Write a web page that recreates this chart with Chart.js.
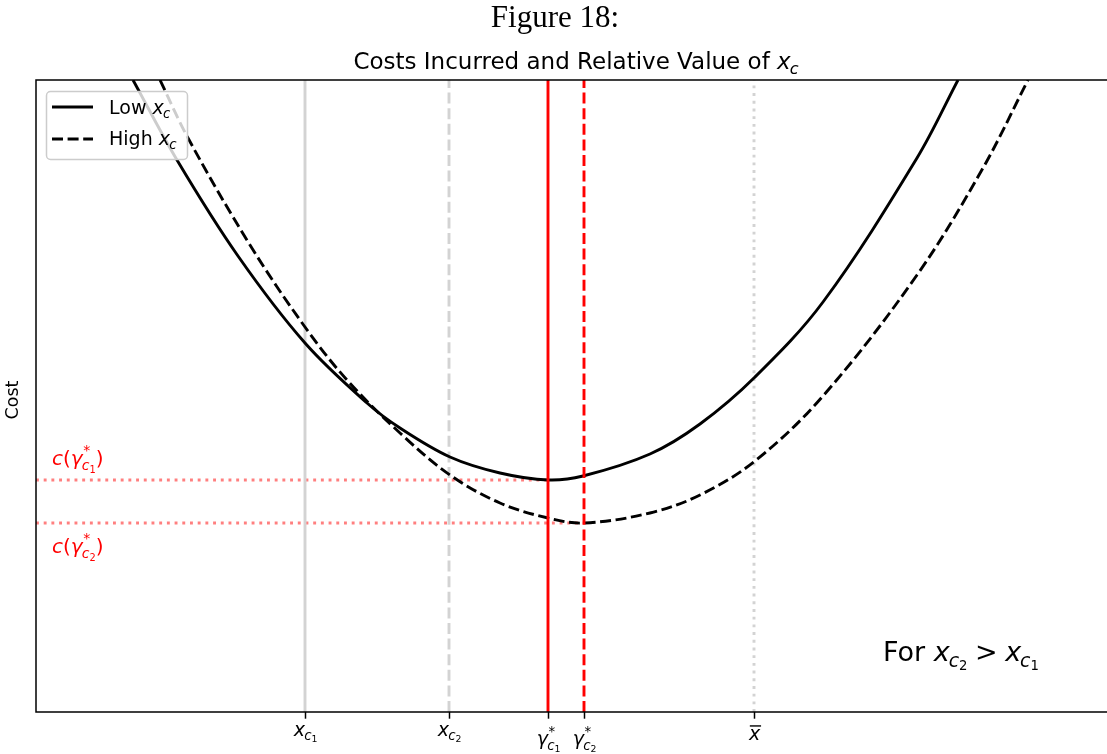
<!DOCTYPE html>
<html>
<head>
<meta charset="utf-8">
<script src="https://cdn.jsdelivr.net/npm/chart.js@4.4.1/dist/chart.umd.min.js"></script>
<style>
  html, body { margin: 0; padding: 0; background: #fff; }
  canvas { display: block; }
</style>
</head>
<body>
<canvas id="costChart" width="1107" height="754"></canvas>
<script>
// curve readings (x in axis units, cost in axis units)
const lowX = [0.97, 1.41, 2.02, 2.69, 3.31, 3.64, 4.14, 4.64, 5.12, 5.47, 6.14, 6.64, 7.19, 7.87, 8.81, 9.22];
const lowY = [6.32, 5.52, 4.56, 3.69, 3.09, 2.84, 2.55, 2.39, 2.32, 2.36, 2.58, 2.88, 3.35, 4.10, 5.54, 6.32];
const highX = [1.24, 1.52, 2.14, 2.69, 3.11, 3.64, 4.14, 4.64, 5.12, 5.48, 6.14, 6.64, 7.19, 7.87, 8.81, 9.47, 9.92];
const highY = [6.32, 5.74, 4.67, 3.85, 3.32, 2.79, 2.37, 2.09, 1.94, 1.89, 1.99, 2.17, 2.51, 3.16, 4.37, 5.44, 6.32];

// reference positions
const xC1 = 2.69;
const xC2 = 4.13;
const gammaC1 = 5.12;
const gammaC2 = 5.48;
const xBar = 7.18;
const costGammaC1 = 2.32;
const costGammaC2 = 1.89;

const xMax = 10.71;
const yMax = 6.32;

const tickValues = [xC1, xC2, gammaC1, gammaC2, xBar];
const tickLabels = [
  { base: 'x', sub: 'c', sub2: '1' },
  { base: 'x', sub: 'c', sub2: '2' },
  { base: 'γ', sup: '*', sub: 'c', sub2: '1' },
  { base: 'γ', sup: '*', sub: 'c', sub2: '2' },
  { base: 'x', bar: true },
];

const figureHeading = 'Figure 18:';
const titleParts = ['Costs Incurred and Relative Value of ', { base: 'x', sub: 'c' }];
const yAxisLabel = 'Cost';
const legendLow = ['Low ', { base: 'x', sub: 'c' }];
const legendHigh = ['High ', { base: 'x', sub: 'c' }];
const costLabel1 = [{ base: 'c' }, '(', { base: 'γ', sup: '*', sub: 'c', sub2: '1' }, ')'];
const costLabel2 = [{ base: 'c' }, '(', { base: 'γ', sup: '*', sub: 'c', sub2: '2' }, ')'];
const noteParts = ['For ', { base: 'x', sub: 'c', sub2: '2' }, { gap: 0.28 }, '>', { gap: 0.28 }, { base: 'x', sub: 'c', sub2: '1' }];

const pts = (xs, ys) => xs.map((x, i) => ({ x, y: ys[i] }));
const vline = (x) => [{ x, y: 0 }, { x, y: yMax }];

const LW = 2.9;
const DASH = [11, 4.6];
const DOT = [2.9, 4.8];
const GRAY = '#d3d3d3';

function font(size, italic) {
  return `${italic ? 'italic ' : ''}${size}px "DejaVu Sans"`;
}

// lays out a small piece of math: base with optional sup / sub / sub-sub / bar
function layoutLabel(ctx, lbl, size) {
  const runs = [];
  ctx.font = font(size, true);
  const wb = ctx.measureText(lbl.base).width;
  runs.push({ t: lbl.base, font: font(size, true), dx: 0, dy: 0 });
  let wSup = 0;
  let wSub = 0;
  if (lbl.sup) {
    const s = size * 0.7;
    ctx.font = font(s, false);
    wSup = ctx.measureText(lbl.sup).width + size * 0.03;
    runs.push({ t: lbl.sup, font: font(s, false), dx: wb + size * 0.03, dy: -size * 0.5 });
  }
  if (lbl.sub) {
    const s = size * 0.7;
    const dy = lbl.sup ? size * 0.27 : size * 0.21;
    ctx.font = font(s, true);
    const w1 = ctx.measureText(lbl.sub).width;
    runs.push({ t: lbl.sub, font: font(s, true), dx: wb - size * 0.04, dy });
    wSub = w1 - size * 0.04;
    if (lbl.sub2) {
      const s2 = size * 0.49;
      ctx.font = font(s2, false);
      const w2 = ctx.measureText(lbl.sub2).width;
      runs.push({ t: lbl.sub2, font: font(s2, false), dx: wb + wSub, dy: dy + size * 0.11 });
      wSub += w2;
    }
  }
  const bars = lbl.bar ? [{ dx: size * 0.05, w: wb, dy: -size * 0.74 }] : [];
  return { runs, bars, width: wb + Math.max(wSup, wSub) };
}

function layoutSeq(ctx, parts, size) {
  let x = 0;
  const runs = [];
  const bars = [];
  parts.forEach((p) => {
    if (typeof p === 'string') {
      ctx.font = font(size, false);
      runs.push({ t: p, font: font(size, false), dx: x, dy: 0 });
      x += ctx.measureText(p).width;
    } else if (p.gap) {
      x += p.gap * size;
    } else {
      const l = layoutLabel(ctx, p, size);
      l.runs.forEach((r) => runs.push({ ...r, dx: r.dx + x }));
      l.bars.forEach((b) => bars.push({ ...b, dx: b.dx + x }));
      x += l.width;
    }
  });
  return { runs, bars, width: x };
}

function drawSeq(ctx, parts, size, x, y, align, color) {
  const l = layoutSeq(ctx, parts, size);
  const x0 = align === 'center' ? x - l.width / 2 : x;
  ctx.save();
  ctx.fillStyle = color;
  ctx.strokeStyle = color;
  ctx.textBaseline = 'alphabetic';
  ctx.textAlign = 'left';
  l.runs.forEach((r) => {
    ctx.font = r.font;
    ctx.fillText(r.t, x0 + r.dx, y + r.dy);
  });
  l.bars.forEach((b) => {
    ctx.lineWidth = 1.4;
    ctx.beginPath();
    ctx.moveTo(x0 + b.dx, y + b.dy);
    ctx.lineTo(x0 + b.dx + b.w, y + b.dy);
    ctx.stroke();
  });
  ctx.restore();
}

const decorations = {
  id: 'decorations',
  afterDraw(chart) {
    const { ctx, chartArea: { left, top, right, bottom } } = chart;
    const xs = chart.scales.x;

    ctx.save();
    // spines
    ctx.strokeStyle = '#000';
    ctx.lineWidth = 1.5;
    ctx.beginPath();
    ctx.moveTo(right + 2, top);
    ctx.lineTo(left, top);
    ctx.lineTo(left, bottom);
    ctx.lineTo(right + 2, bottom);
    ctx.stroke();

    // ticks
    tickValues.forEach((v, i) => {
      const px = Math.round(xs.getPixelForValue(v)) + 0.5;
      ctx.beginPath();
      ctx.moveTo(px, bottom);
      ctx.lineTo(px, bottom + 6.7);
      ctx.stroke();
      const lbl = tickLabels[i];
      const base = bottom + 24 + (lbl.sup ? 9 : 0) + (lbl.bar ? 4 : 0);
      drawSeq(ctx, [lbl], 19, px, base, 'center', '#000');
    });

    // headings
    ctx.fillStyle = '#000';
    ctx.font = '31px "Liberation Serif"';
    ctx.textAlign = 'center';
    ctx.fillText(figureHeading, 555, 27);
    drawSeq(ctx, titleParts, 23, 576, 69, 'center', '#000');

    // y label
    ctx.save();
    ctx.translate(18, 400);
    ctx.rotate(-Math.PI / 2);
    ctx.font = font(17.5, false);
    ctx.textAlign = 'center';
    ctx.fillText(yAxisLabel, 0, 0);
    ctx.restore();

    // cost labels and note
    drawSeq(ctx, costLabel1, 20, 52, 465, 'left', '#ff0000');
    drawSeq(ctx, costLabel2, 20, 52, 553, 'left', '#ff0000');
    drawSeq(ctx, noteParts, 27, 883, 661, 'left', '#000');

    // legend
    const bx = 46, by = 91, bw = 141, bh = 68;
    ctx.beginPath();
    ctx.roundRect(bx + 0.5, by + 0.5, bw, bh, 4);
    ctx.fillStyle = 'rgba(255,255,255,0.8)';
    ctx.fill();
    ctx.strokeStyle = '#cccccc';
    ctx.lineWidth = 1.5;
    ctx.stroke();

    ctx.strokeStyle = '#000';
    ctx.lineWidth = LW;
    ctx.beginPath();
    ctx.moveTo(52, 107);
    ctx.lineTo(93, 107);
    ctx.stroke();
    ctx.setLineDash(DASH);
    ctx.beginPath();
    ctx.moveTo(52, 139);
    ctx.lineTo(93, 139);
    ctx.stroke();
    ctx.setLineDash([]);
    drawSeq(ctx, legendLow, 19, 109, 114, 'left', '#000');
    drawSeq(ctx, legendHigh, 19, 109, 145, 'left', '#000');
    ctx.restore();
  },
};

const lineDs = (data, color, dash, order) => ({
  data,
  borderColor: color,
  borderWidth: LW,
  borderDash: dash,
  pointRadius: 0,
  fill: false,
  tension: 0,
  order,
});

new Chart(document.getElementById('costChart'), {
  type: 'line',
  data: {
    datasets: [
      lineDs(vline(gammaC1), '#ff0000', [], 1),
      lineDs(vline(gammaC2), '#ff0000', DASH, 1),
      { ...lineDs(pts(lowX, lowY), '#000', [], 2), tension: 0.35 },
      { ...lineDs(pts(highX, highY), '#000', DASH, 2), tension: 0.35 },
      lineDs(vline(xC1), GRAY, [], 3),
      lineDs(vline(xC2), GRAY, DASH, 3),
      lineDs(vline(xBar), GRAY, DOT, 3),
      lineDs([{ x: 0, y: costGammaC1 }, { x: gammaC1, y: costGammaC1 }], 'rgba(255,0,0,0.5)', DOT, 4),
      lineDs([{ x: 0, y: costGammaC2 }, { x: gammaC2, y: costGammaC2 }], 'rgba(255,0,0,0.5)', DOT, 4),
    ],
  },
  options: {
    responsive: false,
    devicePixelRatio: 1,
    animation: false,
    layout: { padding: { left: 36, top: 80, right: 0, bottom: 42 } },
    plugins: {
      legend: { display: false },
      tooltip: { enabled: false },
    },
    scales: {
      x: { type: 'linear', min: 0, max: xMax, display: false },
      y: { type: 'linear', min: 0, max: yMax, display: false },
    },
  },
  plugins: [decorations],
});
</script>
</body>
</html>
